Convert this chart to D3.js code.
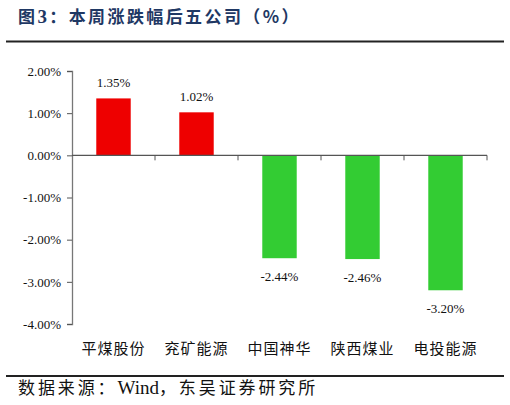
<!DOCTYPE html>
<html>
<head>
<meta charset="utf-8">
<script src="https://cdn.jsdelivr.net/npm/d3@7"></script>
<style>
  body { margin: 0; background: #fff; }
  svg { display: block; }
</style>
</head>
<body>
<svg id="grafico" width="510" height="405"></svg>
<script>
// dati
var aziende = ['平煤股份', '兖矿能源', '中国神华', '陕西煤业', '电投能源'];
var variazioni = [1.35, 1.02, -2.44, -2.46, -3.20];
var tickValori = [2, 1, 0, -1, -2, -3, -4];

var svg = d3.select('#grafico');
var serif = '"Liberation Serif", "Times New Roman", serif';
var cjk = '"Noto Sans CJK SC", sans-serif';

//formato percentuale con il trattino normale
function percento(d) {
    return d3.format('.2f')(d).replace('\u2212', '-') + '%';
}

// titolo e linee di separazione
var titolo = svg.append('text')
    .attr('x', 18).attr('y', 23)
    .style('font-family', cjk)
    .style('font-weight', 'bold')
    .style('font-size', '17px')
    .style('letter-spacing', '2.4px')
    .style('fill', '#1F3864');
titolo.append('tspan').text('图');
titolo.append('tspan').style('font-family', serif).style('font-size', '19px').text('3');
titolo.append('tspan').text('：本周涨跌幅后五公司（%）');

svg.append('line')
    .attr('x1', 6).attr('x2', 504)
    .attr('y1', 41.5).attr('y2', 41.5)
    .style('stroke', '#222').style('stroke-width', 2);

svg.append('line')
    .attr('x1', 6).attr('x2', 504)
    .attr('y1', 376).attr('y2', 376)
    .style('stroke', '#222').style('stroke-width', 2);

var fonte = svg.append('text')
    .attr('x', 18).attr('y', 394)
    .style('font-family', cjk)
    .style('font-size', '17px')
    .style('letter-spacing', '2.9px')
    .style('fill', '#111');
fonte.append('tspan').text('数据来源：');
fonte.append('tspan').style('font-family', serif).style('font-size', '19px').style('letter-spacing', '0px').text('Wind');
fonte.append('tspan').text('，东吴证券研究所');

// scale
var x = d3.scaleBand()
    .domain(aziende)
    .range([72, 487])
    .paddingInner(0.585)
    .paddingOuter(0.2925);

var y = d3.scaleLinear()
    .domain([-4, 2])
    .range([324, 71]);

// asse y
var assey = svg.append('g')
    .attr('transform', 'translate(72,0)')
    .call(d3.axisLeft(y)
        .tickValues(tickValori)
        .tickSize(5)
        .tickPadding(6)
        .tickFormat(percento));

assey.select('.domain').style('stroke', '#777').style('stroke-width', 1.3);
assey.selectAll('.tick line').style('stroke', '#555');
assey.selectAll('.tick text')
    .style('font-family', serif)
    .style('font-size', '13px')
    .style('fill', '#111');

// barre
svg.selectAll('.barra')
    .data(variazioni)
    .enter().append('rect')
    .attr('class', 'barra')
    .attr('x', function(d, i) { return x(aziende[i]); })
    .attr('width', x.bandwidth())
    .attr('y', function(d) { return y(Math.max(0, d)); })
    .attr('height', function(d) { return Math.abs(y(d) - y(0)); })
    .style('fill', function(d) { return d >= 0 ? '#EE0000' : '#33CC33'; });

// linea dello zero con tacche verso il basso
svg.append('line')
    .attr('x1', 72).attr('x2', 487)
    .attr('y1', y(0)).attr('y2', y(0))
    .style('stroke', '#555').style('stroke-width', 1.2);

var confini = aziende.map(function(a) { return x(a) - x.step() * x.paddingOuter(); });
confini.push(487);
svg.selectAll('.tacca')
    .data(confini.slice(1))
    .enter().append('line')
    .attr('class', 'tacca')
    .attr('x1', function(d) { return d; })
    .attr('x2', function(d) { return d; })
    .attr('y1', y(0)).attr('y2', y(0) + 5)
    .style('stroke', '#555');

// etichette dei valori
svg.selectAll('.valore')
    .data(variazioni)
    .enter().append('text')
    .attr('class', 'valore')
    .attr('x', function(d, i) { return x(aziende[i]) + x.bandwidth() / 2; })
    .attr('y', function(d) { return d >= 0 ? y(d) - 11 : y(d) + 23; })
    .style('text-anchor', 'middle')
    .style('font-family', serif)
    .style('font-size', '13px')
    .style('fill', '#111')
    .text(percento);

// etichette delle categorie
svg.selectAll('.categoria')
    .data(aziende)
    .enter().append('text')
    .attr('class', 'categoria')
    .attr('x', function(d) { return x(d) + x.bandwidth() / 2; })
    .attr('y', 354)
    .style('text-anchor', 'middle')
    .style('font-family', cjk)
    .style('font-size', '15px')
    .style('letter-spacing', '1px')
    .style('fill', '#111')
    .text(function(d) { return d; });
</script>
</body>
</html>
